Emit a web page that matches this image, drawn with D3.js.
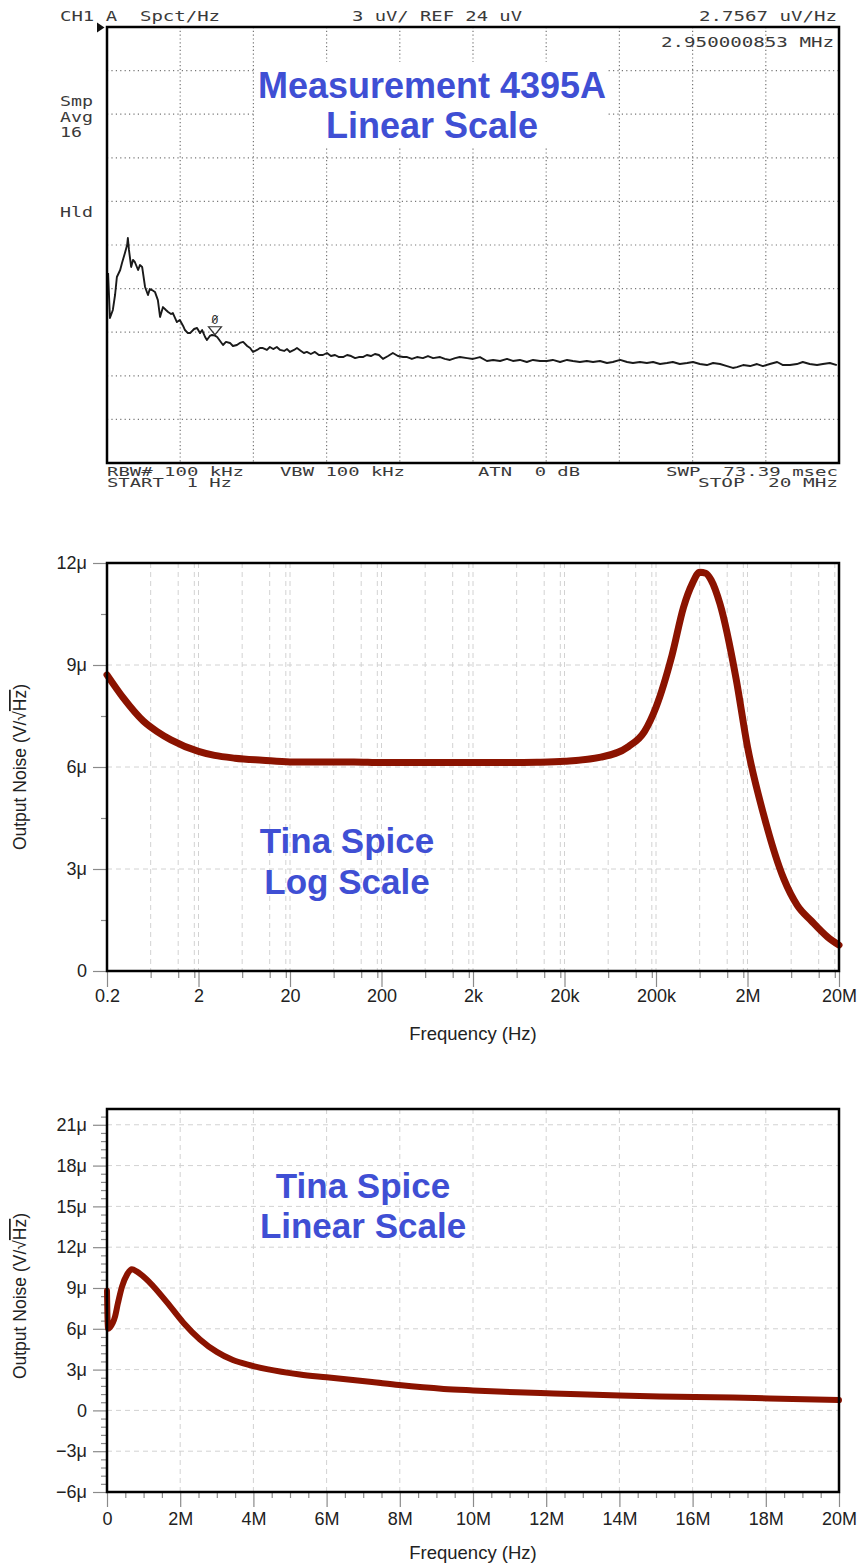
<!DOCTYPE html>
<html><head><meta charset="utf-8">
<script src="https://cdn.jsdelivr.net/npm/d3@7/dist/d3.min.js"></script>
<style>body{margin:0;background:#fff} svg{display:block}</style>
</head><body>
<svg id="c" width="864" height="1566"></svg>
<script>
// ---------------- DATA ----------------
// Top: 4395A measurement, linear frequency (MHz) vs noise (uV/rtHz)
const measFreqMHz = [0.03,0.08,0.16,0.22,0.27,0.36,0.41,0.49,0.55,0.57,0.60,0.66,0.71,0.76,0.85,0.90,0.96,1.04,1.12,1.17,1.23,1.31,1.39,1.45,1.53,1.61,1.67,1.75,1.80,1.91,1.99,2.08,2.13,2.21,2.27,2.38,2.46,2.54,2.60,2.68,2.73,2.81,2.87,2.95,3.01,3.09,3.17,3.25,3.36,3.44,3.55,3.63,3.72,3.83,3.91,3.99,4.10,4.18,4.26,4.37,4.45,4.54,4.64,4.73,4.84,4.92,5.00,5.11,5.19,5.30,5.38,5.46,5.57,5.68,5.79,5.90,6.01,6.12,6.23,6.34,6.45,6.56,6.67,6.78,6.88,6.99,7.10,7.21,7.32,7.43,7.54,7.68,7.81,7.95,8.09,8.20,8.33,8.47,8.63,8.77,8.91,9.10,9.23,9.37,9.51,9.64,9.84,10.00,10.19,10.38,10.55,10.74,10.93,11.09,11.28,11.47,11.64,11.83,12.02,12.18,12.38,12.57,12.73,12.92,13.11,13.28,13.47,13.66,13.82,14.02,14.21,14.37,14.56,14.75,14.92,15.11,15.30,15.46,15.65,15.85,16.01,16.20,16.39,16.56,16.75,16.94,17.10,17.21,17.38,17.57,17.76,17.92,18.11,18.31,18.47,18.66,18.85,19.01,19.20,19.40,19.56,19.75,19.94];
const measNoiseUV = [7.07,3.98,4.53,5.56,6.80,7.28,7.76,8.45,9.00,9.48,8.66,7.49,7.97,7.83,7.28,7.62,7.49,6.11,5.56,5.97,5.90,5.77,5.21,4.05,4.73,4.53,4.39,4.25,4.32,3.70,3.84,3.43,3.15,2.94,2.94,3.22,3.29,2.94,3.15,2.67,2.46,2.74,2.81,2.76,2.67,2.39,2.12,2.33,2.26,2.05,2.12,2.26,2.33,2.05,1.91,1.64,1.78,1.91,1.91,1.78,1.98,1.84,1.98,1.78,1.71,1.84,1.64,1.78,1.91,1.71,1.57,1.64,1.50,1.64,1.43,1.43,1.57,1.36,1.43,1.29,1.29,1.43,1.36,1.22,1.29,1.29,1.43,1.36,1.50,1.43,1.16,1.36,1.57,1.36,1.29,1.29,1.16,1.29,1.22,1.36,1.22,1.29,1.16,1.09,1.22,1.29,1.22,1.16,1.29,1.02,1.09,1.02,1.16,1.02,1.09,0.95,1.09,1.02,1.02,1.09,0.95,1.09,1.02,0.95,1.02,0.95,1.02,0.88,0.95,1.09,0.95,0.88,0.95,0.88,0.95,0.81,0.88,0.95,0.81,0.88,0.95,0.81,0.74,0.88,0.81,0.67,0.54,0.60,0.74,0.67,0.81,0.67,0.81,0.95,0.74,0.74,0.81,0.95,0.81,0.74,0.81,0.88,0.74];
const measGridMHz = [2,4,6,8,10,12,14,16,18];
const measGridUV = [-3,0,3,6,9,12,15,18,21];
const markerMHz = 2.95, markerUV = 2.7567;

// Middle: Tina Spice, log frequency (Hz) vs noise (uV/rtHz)
const logFreqHz = [0.2,0.3,0.5,0.7,1,2,3,5,10,20,50,100,200,500,1e3,2e3,5e3,1e4,2e4,5e4,1e5,1.5e5,2e5,3e5,4e5,5e5,6e5,7e5,8e5,1e6,1.5e6,2e6,3e6,5e6,7e6,1e7,1.5e7,2e7];
const logNoiseUV = [8.71,8.04,7.35,7.05,6.80,6.46,6.34,6.26,6.20,6.15,6.15,6.15,6.13,6.13,6.13,6.13,6.13,6.14,6.17,6.29,6.60,7.05,7.76,9.30,10.70,11.40,11.73,11.70,11.50,10.80,8.60,6.59,4.60,2.70,1.93,1.47,1.00,0.76];
const logMajorHz = [0.2,2,20,200,2e3,2e4,2e5,2e6,2e7];
const logMajorLabels = ["0.2","2","20","200","2k","20k","200k","2M","20M"];
const logMinorHz = [0.6,1.2,1.8,6,12,18,60,120,180,600,1200,1800,6e3,1.2e4,1.8e4,6e4,1.2e5,1.8e5,6e5,1.2e6,1.8e6,6e6,1.2e7,1.8e7];
const logYMajor = [0,3,6,9,12];
const logYLabels = ["0","3\u03bc","6\u03bc","9\u03bc","12\u03bc"];
const logYMinor = [1.5,4.5,7.5,10.5];

// Bottom: Tina Spice, linear frequency (MHz) vs noise (uV/rtHz)
const linFreqMHz = [0,0.01,0.03,0.08,0.22,0.30,0.41,0.55,0.68,0.82,1.17,1.64,2.08,2.54,3.00,3.44,3.91,4.37,5.27,6.00,7.24,7.98,9.20,10.0,11.2,12.2,14.0,15.1,17.1,18.1,20.0];
const linNoiseUV = [8.8,7.2,6.0,6.1,6.9,7.9,9.1,10.0,10.37,10.2,9.4,7.94,6.47,5.22,4.30,3.70,3.32,3.03,2.64,2.43,2.08,1.86,1.58,1.47,1.33,1.25,1.10,1.03,0.95,0.88,0.76];
const linXMajor = [0,2,4,6,8,10,12,14,16,18,20];
const linXLabels = ["0","2M","4M","6M","8M","10M","12M","14M","16M","18M","20M"];
const linXMinor = [0.5,1,1.5,2.5,3,3.5,4.5,5,5.5,6.5,7,7.5,8.5,9,9.5,10.5,11,11.5,12.5,13,13.5,14.5,15,15.5,16.5,17,17.5,18.5,19,19.5];
const linYMajor = [-6,-3,0,3,6,9,12,15,18,21];
const linYLabels = ["\u22126\u03bc","\u22123\u03bc","0","3\u03bc","6\u03bc","9\u03bc","12\u03bc","15\u03bc","18\u03bc","21\u03bc"];
const linYMinor = [-5.4,-4.8,-4.2,-3.6,-2.4,-1.8,-1.2,-0.6,0.6,1.2,1.8,2.4,3.6,4.2,4.8,5.4,6.6,7.2,7.8,8.4,9.6,10.2,10.8,11.4,12.6,13.2,13.8,14.4,15.6,16.2,16.8,17.4,18.6,19.2,19.8,20.4,21.6];

// ---------------- DRAW ----------------
const svg = d3.select("#c");
const MONO = "'DejaVu Sans Mono', monospace";
const SANS = "'Liberation Sans', Arial, sans-serif";
const BLUE = "#3f4fd4";
const RED = "#8b1300";
const TICKFS = 18;

function mono(str, x, y, len, size, anchor) {
  svg.append("text").attr("x", x).attr("y", y)
    .attr("font-family", MONO).attr("font-size", size || 14)
    .attr("fill", "#3a3a3a").attr("text-anchor", anchor || "start")
    .attr("style", "white-space:pre").attr("xml:space", "preserve")
    .attr("textLength", len).attr("lengthAdjust", "spacingAndGlyphs")
    .text(str);
}
function title(lines, cx, ys, size) {
  lines.forEach((t, i) => svg.append("text").attr("x", cx).attr("y", ys[i])
    .attr("text-anchor", "middle").attr("font-family", SANS).attr("font-weight", "bold")
    .attr("font-size", size).attr("fill", BLUE).text(t));
}

// ===== Top chart =====
const xT = d3.scaleLinear().domain([0, 20]).range([107, 839]);
const yT = d3.scaleLinear().domain([-6, 24]).range([463, 27]);
const gT = svg.append("g");
gT.selectAll(".vg").data(measGridMHz).join("line")
  .attr("x1", d => xT(d)).attr("x2", d => xT(d)).attr("y1", 27).attr("y2", 463)
  .attr("stroke", "#777").attr("stroke-width", 1.2).attr("stroke-dasharray", "1.2,2.6");
gT.selectAll(".hg").data(measGridUV).join("line")
  .attr("y1", d => yT(d)).attr("y2", d => yT(d)).attr("x1", 107).attr("x2", 839)
  .attr("stroke", "#777").attr("stroke-width", 1.2).attr("stroke-dasharray", "1.2,3.2");
// white panel behind the title
gT.append("rect").attr("x", 255.5).attr("y", 62).attr("width", 351).attr("height", 86).attr("fill", "#fff");
title(["Measurement 4395A", "Linear Scale"], 432, [98, 138], 36);

const measData = measFreqMHz.map((f, i) => [f, measNoiseUV[i]]);
gT.append("path").datum(measData)
  .attr("d", d3.line().x(d => xT(d[0])).y(d => yT(d[1])))
  .attr("fill", "none").attr("stroke", "#1a1a1a").attr("stroke-width", 1.9).attr("stroke-linejoin", "round");
gT.append("rect").attr("x", 107).attr("y", 27).attr("width", 732).attr("height", 436)
  .attr("fill", "none").attr("stroke", "#000").attr("stroke-width", 2.5);
// marker
const mx = xT(markerMHz), my = yT(markerUV);
gT.append("path").attr("d", `M${mx - 6.5},${my - 9}L${mx + 6.5},${my - 9}L${mx},${my - 1}Z`)
  .attr("fill", "none").attr("stroke", "#333").attr("stroke-width", 1.2);
gT.append("text").attr("x", mx).attr("y", my - 12).attr("text-anchor", "middle")
  .attr("font-family", MONO).attr("font-size", 12).attr("fill", "#333").text("0");
gT.append("line").attr("x1", mx - 3).attr("x2", mx + 3).attr("y1", my - 13).attr("y2", my - 20)
  .attr("stroke", "#333").attr("stroke-width", 1);
// reference arrow
gT.append("path").attr("d", "M97,22.5L104.5,27.5L97,32.5Z").attr("fill", "#111");

mono("CH1 A  Spct/Hz", 60, 21, 160);
mono("3 uV/ REF 24 uV", 352, 21, 170);
mono("2.7567 uV/Hz", 699, 21, 138);
mono("2.950000853 MHz", 661, 47, 173);
mono("Smp", 60, 106, 33);
mono("Avg", 60, 122, 33);
mono("16", 60, 137, 22);
mono("Hld", 60, 217, 33);
mono("RBW# 100 kHz", 107, 476, 137, 12);
mono("VBW 100 kHz", 280, 476, 125, 12);
mono("ATN  0 dB", 478, 476, 102, 12);
mono("SWP  73.39 msec", 666, 476, 172, 12);
mono("START  1 Hz", 107, 487, 125, 12);
mono("STOP  20 MHz", 698, 487, 140, 12);

// ===== Shared Tina helpers =====
function styleAxis(g, fs) {
  g.select(".domain").remove();
  g.selectAll(".tick line").attr("stroke", "#8a8a8a").attr("stroke-width", 1.2);
  g.selectAll(".tick text").attr("font-family", SANS).attr("font-size", fs).attr("fill", "#222");
}
function yTitle(cy) {
  const t = svg.append("text").attr("transform", `translate(26,${cy}) rotate(-90)`)
    .attr("text-anchor", "middle").attr("font-family", SANS).attr("font-size", 17.5).attr("fill", "#222");
  t.append("tspan").text("Output Noise (V/\u221a");
  t.append("tspan").attr("style", "text-decoration: overline").text("Hz");
  t.append("tspan").text(")");
}
function grid(g, xs, ys, x, y, x0, x1, y0, y1) {
  g.selectAll(".gx").data(xs).join("line")
    .attr("x1", d => x(d)).attr("x2", d => x(d)).attr("y1", y0).attr("y2", y1)
    .attr("stroke", "#d2d2d2").attr("stroke-width", 1).attr("stroke-dasharray", "5,4");
  g.selectAll(".gy").data(ys).join("line")
    .attr("y1", d => y(d)).attr("y2", d => y(d)).attr("x1", x0).attr("x2", x1)
    .attr("stroke", "#d2d2d2").attr("stroke-width", 1).attr("stroke-dasharray", "5,4");
}

// ===== Middle chart (log) =====
const xL = d3.scaleLog().domain([0.2, 2e7]).range([107, 839]);
const yL = d3.scaleLinear().domain([0, 12]).range([971, 563]);
const gL = svg.append("g");
grid(gL, logMinorHz.concat(logMajorHz.slice(1, -1)), [3, 6, 9], xL, yL, 107, 839, 563, 971);
gL.append("g").attr("transform", "translate(0,971)")
  .call(d3.axisBottom(xL).tickValues(logMinorHz).tickSize(7).tickSizeOuter(0).tickFormat(""))
  .call(g => styleAxis(g, TICKFS));
gL.append("g").attr("transform", "translate(0,971)")
  .call(d3.axisBottom(xL).tickValues(logMajorHz).tickSize(16).tickSizeOuter(0).tickPadding(2)
    .tickFormat((d, i) => logMajorLabels[i]))
  .call(g => styleAxis(g, TICKFS));
gL.append("g").attr("transform", "translate(107,0)")
  .call(d3.axisLeft(yL).tickValues(logYMinor).tickSize(6).tickSizeOuter(0).tickFormat(""))
  .call(g => styleAxis(g, TICKFS));
gL.append("g").attr("transform", "translate(107,0)")
  .call(d3.axisLeft(yL).tickValues(logYMajor).tickSize(14).tickSizeOuter(0).tickPadding(6)
    .tickFormat((d, i) => logYLabels[i]))
  .call(g => styleAxis(g, TICKFS));
const logData = logFreqHz.map((f, i) => [f, logNoiseUV[i]]);
gL.append("path").datum(logData)
  .attr("d", d3.line().x(d => xL(d[0])).y(d => yL(d[1])).curve(d3.curveMonotoneX))
  .attr("fill", "none").attr("stroke", RED).attr("stroke-width", 7)
  .attr("stroke-linecap", "round").attr("stroke-linejoin", "round");
gL.append("rect").attr("x", 107).attr("y", 563).attr("width", 732).attr("height", 408)
  .attr("fill", "none").attr("stroke", "#000").attr("stroke-width", 2.5);
svg.append("text").attr("x", 473).attr("y", 1040).attr("text-anchor", "middle")
  .attr("font-family", SANS).attr("font-size", 18.5).attr("fill", "#222").text("Frequency (Hz)");
yTitle(767);
title(["Tina Spice", "Log Scale"], 347, [853, 894], 35);

// ===== Bottom chart (linear) =====
const xB = d3.scaleLinear().domain([0, 20]).range([107, 839]);
const yB = d3.scaleLinear().domain([-6, 22.16]).range([1492, 1109]);
const gB = svg.append("g");
grid(gB, linXMajor.slice(1, -1), linYMajor.slice(1), xB, yB, 107, 839, 1109, 1492);
gB.append("g").attr("transform", "translate(0,1492)")
  .call(d3.axisBottom(xB).tickValues(linXMinor).tickSize(6).tickSizeOuter(0).tickFormat(""))
  .call(g => styleAxis(g, TICKFS));
gB.append("g").attr("transform", "translate(0,1492)")
  .call(d3.axisBottom(xB).tickValues(linXMajor).tickSize(15).tickSizeOuter(0).tickPadding(5)
    .tickFormat((d, i) => linXLabels[i]))
  .call(g => styleAxis(g, TICKFS));
gB.append("g").attr("transform", "translate(107,0)")
  .call(d3.axisLeft(yB).tickValues(linYMinor).tickSize(6).tickSizeOuter(0).tickFormat(""))
  .call(g => styleAxis(g, TICKFS));
gB.append("g").attr("transform", "translate(107,0)")
  .call(d3.axisLeft(yB).tickValues(linYMajor).tickSize(14).tickSizeOuter(0).tickPadding(6)
    .tickFormat((d, i) => linYLabels[i]))
  .call(g => styleAxis(g, TICKFS));
const linData = linFreqMHz.map((f, i) => [f, linNoiseUV[i]]);
gB.append("path").datum(linData)
  .attr("d", d3.line().x(d => xB(d[0])).y(d => yB(d[1])).curve(d3.curveMonotoneX))
  .attr("fill", "none").attr("stroke", RED).attr("stroke-width", 6)
  .attr("stroke-linecap", "round").attr("stroke-linejoin", "round");
gB.append("rect").attr("x", 107).attr("y", 1109).attr("width", 732).attr("height", 383)
  .attr("fill", "none").attr("stroke", "#000").attr("stroke-width", 2.5);
svg.append("text").attr("x", 473).attr("y", 1559).attr("text-anchor", "middle")
  .attr("font-family", SANS).attr("font-size", 18.5).attr("fill", "#222").text("Frequency (Hz)");
yTitle(1296);
title(["Tina Spice", "Linear Scale"], 363, [1198, 1238], 35);
</script></body></html>
